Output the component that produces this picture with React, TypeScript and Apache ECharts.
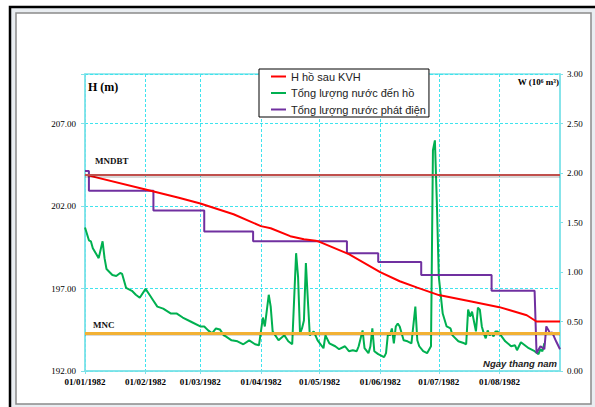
import React, { useEffect, useRef } from 'react';
import * as echarts from 'echarts';

// X axis: days counted from 01/01/1982
const xLabels = ['01/01/1982', '01/02/1982', '01/03/1982', '01/04/1982', '01/05/1982', '01/06/1982', '01/07/1982', '01/08/1982'];
const xLabelDays = [0, 31, 59, 90, 120, 151, 181, 212];
const xEndDay = 243;

// Left axis (H, m)
const hMin = 192;
const hMax = 210;
const hInterval = 5;
// Right axis (W, 10^6 m3)
const wMin = 0;
const wMax = 3;
const wInterval = 0.5;

// Reference levels
const mndbtLevel = 203.9;
const mncLevel = 194.3;

// H hồ sau KVH
const hDays = [0, 31, 48, 59, 76, 90, 95, 105, 112, 118, 120, 135, 151, 161, 170, 181, 197, 212, 217, 226, 231, 243];
const hValues = [203.9, 203.0, 202.5, 202.15, 201.5, 200.78, 200.65, 200.17, 199.98, 199.9, 199.83, 199.08, 197.99, 197.44, 197.05, 196.6, 196.23, 195.87, 195.7, 195.38, 195.0, 195.0];

// Tổng lượng nước đến hồ
const inflowDays = [0, 2, 3, 4, 7, 9, 10, 11, 14, 16, 18, 19, 21, 24, 26, 28, 31, 33, 35, 37, 40, 44, 47, 50, 54, 55, 59, 61, 63, 65, 67, 69, 71, 72, 75, 78, 81, 84, 87, 89, 90, 91, 92, 94, 95, 96, 99, 102, 104, 106, 108, 109, 110, 111, 112, 113, 114, 115, 117, 119, 122, 123, 125, 128, 130, 133, 135, 137, 139, 140, 142, 143, 145, 146, 147, 148, 150, 153, 154, 155, 156, 157, 158, 159, 160, 161, 163, 165, 167, 169, 170, 171, 173, 175, 177, 178, 179, 180, 181, 183, 185, 187, 188, 191, 194, 195, 196, 197, 198, 199, 200, 201, 202, 203, 204, 205, 206, 207, 208, 209, 210, 211, 212, 215, 218, 220, 221, 223, 225, 227, 230, 232, 233, 234, 235];
const inflowValues = [1.45, 1.32, 1.31, 1.24, 1.14, 1.31, 1.14, 1.03, 0.97, 0.96, 0.99, 0.98, 0.84, 0.81, 0.77, 0.74, 0.83, 0.77, 0.71, 0.65, 0.63, 0.58, 0.58, 0.54, 0.5, 0.49, 0.45, 0.45, 0.41, 0.38, 0.43, 0.42, 0.36, 0.35, 0.31, 0.3, 0.27, 0.31, 0.27, 0.26, 0.4, 0.54, 0.45, 0.77, 0.65, 0.4, 0.31, 0.36, 0.3, 0.27, 1.19, 0.95, 0.38, 0.43, 0.51, 1.09, 0.72, 0.36, 0.4, 0.31, 0.23, 0.36, 0.28, 0.25, 0.22, 0.25, 0.2, 0.21, 0.2, 0.25, 0.41, 0.23, 0.18, 0.25, 0.43, 0.2, 0.17, 0.14, 0.18, 0.38, 0.36, 0.43, 0.28, 0.45, 0.48, 0.45, 0.31, 0.3, 0.28, 0.65, 0.31, 0.25, 0.2, 0.18, 0.25, 2.23, 2.33, 1.7, 0.95, 0.58, 0.45, 0.43, 0.36, 0.3, 0.28, 0.27, 0.62, 0.55, 0.6, 0.5, 0.4, 0.64, 0.62, 0.45, 0.38, 0.33, 0.41, 0.36, 0.38, 0.35, 0.4, 0.4, 0.38, 0.3, 0.25, 0.26, 0.21, 0.29, 0.26, 0.23, 0.2, 0.17, 0.22, 0.2, 0.28];

// Tổng lượng nước phát điện
const powerDays = [0, 2, 2, 35, 35, 61, 61, 86, 86, 134, 134, 150, 150, 172, 172, 208, 208, 230, 231, 233, 235, 236, 238, 239, 241, 243];
const powerValues = [2.02, 2.02, 1.82, 1.82, 1.62, 1.62, 1.41, 1.41, 1.31, 1.31, 1.19, 1.19, 1.1, 1.1, 0.97, 0.97, 0.81, 0.81, 0.18, 0.25, 0.22, 0.45, 0.38, 0.39, 0.3, 0.22];

const seriesNames = ['H hồ sau KVH', 'Tổng lượng nước đến hồ', 'Tổng lượng nước phát điện'];

const pair = (days: number[], vals: number[]) => days.map((d, i) => [d, vals[i]]);

const CYAN_AXIS = '#7fe2e8';
const CYAN_GRID = '#3fe4ee';
const SERIF = '"Liberation Serif", "Times New Roman", serif';
const SANS = '"Liberation Sans", Arial, sans-serif';
// one pixel of the left axis, in metres (for the soft shadow under the level lines)
const PX = (hMax - hMin) / 297;

export default function App() {
  const ref = useRef<HTMLDivElement>(null);
  useEffect(() => {
    if (!ref.current) return;
    const chart = echarts.init(ref.current, null, { renderer: 'svg' });
    const shadow = (level: number) => ({
      name: '',
      yAxis: level - 2 * PX,
      lineStyle: { color: 'rgba(0,0,0,0.15)', width: 2, type: 'solid' },
      label: { show: false },
    });
    chart.setOption({
      animation: false,
      backgroundColor: 'transparent',
      graphic: [
        { type: 'rect', z: -20, silent: true, shape: { x: 10, y: 7, width: 600, height: 420 }, style: { fill: '#e9edf1', stroke: '#000', lineWidth: 2.5 } },
        { type: 'rect', z: -19, silent: true, shape: { x: 16, y: 13, width: 575, height: 391 }, style: { fill: '#fff', stroke: '#8a8a8a', lineWidth: 1.5 } },
        { type: 'text', z: 10, x: 88, y: 87, style: { text: 'H (m)', fontFamily: SERIF, fontSize: 12, fontWeight: 'bold', fill: '#000', verticalAlign: 'middle' } },
        { type: 'text', z: 10, x: 559, y: 82, style: { text: 'W (10⁶ m³)', fontFamily: SERIF, fontSize: 9, fontWeight: 'bold', fill: '#000', align: 'right', verticalAlign: 'middle' } },
        { type: 'text', z: 10, x: 557, y: 363, style: { text: 'Ngay thang nam', fontFamily: SANS, fontSize: 9.5, fontWeight: 'bold', fontStyle: 'italic', fill: '#222', align: 'right', verticalAlign: 'middle' } },
      ],
      grid: { left: 85, right: 35, top: 74, bottom: 36, show: true, borderColor: CYAN_AXIS, borderWidth: 1.5, backgroundColor: 'transparent' },
      legend: {
        data: seriesNames,
        orient: 'vertical',
        left: 259,
        top: 69,
        icon: 'rect',
        itemWidth: 15,
        itemHeight: 2,
        itemGap: 3.5,
        padding: [1, 3, 1, 12],
        backgroundColor: '#fff',
        borderColor: '#000',
        borderWidth: 1,
        selectedMode: false,
        textStyle: { fontFamily: SANS, fontSize: 11, lineHeight: 13, color: '#222' },
      },
      xAxis: {
        type: 'value',
        min: 0,
        max: xEndDay,
        axisLine: { show: true, lineStyle: { color: CYAN_AXIS, width: 1.5 } },
        axisTick: { show: true, customValues: xLabelDays, length: 3, lineStyle: { color: CYAN_AXIS } },
        axisLabel: {
          customValues: xLabelDays,
          formatter: (v: number) => {
            const i = xLabelDays.indexOf(Math.round(v));
            return i >= 0 ? xLabels[i] : '';
          },
          fontFamily: SERIF,
          fontSize: 9,
          fontWeight: 'bold',
          color: '#000',
          margin: 6,
        },
        splitLine: { show: true, lineStyle: { color: CYAN_GRID, type: [3, 2], width: 1 } },
      },
      yAxis: [
        {
          type: 'value',
          position: 'left',
          min: hMin,
          max: hMax,
          interval: hInterval,
          axisLine: { show: true, lineStyle: { color: CYAN_AXIS, width: 1.5 } },
          axisTick: { show: true, length: 4, lineStyle: { color: CYAN_AXIS } },
          axisLabel: {
            formatter: (v: number) => (v >= hMax ? '' : v.toFixed(2)),
            fontFamily: SERIF,
            fontSize: 9,
            color: '#000',
            margin: 9,
          },
          splitLine: { show: true, lineStyle: { color: CYAN_GRID, type: [3, 2], width: 1 } },
        },
        {
          type: 'value',
          position: 'right',
          min: wMin,
          max: wMax,
          interval: wInterval,
          axisLine: { show: true, lineStyle: { color: CYAN_AXIS, width: 1.5 } },
          axisTick: { show: true, length: 3, lineStyle: { color: CYAN_AXIS } },
          axisLabel: {
            formatter: (v: number) => v.toFixed(2),
            fontFamily: SERIF,
            fontSize: 9,
            color: '#000',
            margin: 7,
          },
          splitLine: { show: false },
        },
      ],
      series: [
        {
          name: seriesNames[1],
          type: 'line',
          yAxisIndex: 1,
          data: pair(inflowDays, inflowValues),
          showSymbol: false,
          symbol: 'none',
          itemStyle: { color: '#00b050' },
          lineStyle: { color: '#00b050', width: 2 },
          z: 2,
        },
        {
          name: seriesNames[2],
          type: 'line',
          yAxisIndex: 1,
          data: pair(powerDays, powerValues),
          showSymbol: false,
          symbol: 'none',
          itemStyle: { color: '#7030a0' },
          lineStyle: { color: '#7030a0', width: 2 },
          z: 3,
        },
        {
          name: seriesNames[0],
          type: 'line',
          yAxisIndex: 0,
          data: pair(hDays, hValues),
          showSymbol: false,
          symbol: 'none',
          itemStyle: { color: '#ff0000' },
          lineStyle: { color: '#ff0000', width: 2 },
          z: 4,
          markLine: {
            silent: true,
            symbol: ['none', 'none'],
            data: [
              shadow(mndbtLevel),
              shadow(mncLevel),
              {
                name: 'MNDBT',
                yAxis: mndbtLevel,
                lineStyle: { color: '#c0504d', width: 2, type: 'solid' },
                label: { show: true, formatter: '{b}', position: 'insideStartTop', distance: [10, 9], fontFamily: SERIF, fontSize: 9, fontWeight: 'bold', color: '#111' },
              },
              {
                name: 'MNC',
                yAxis: mncLevel,
                lineStyle: { color: '#f2b134', width: 3, type: 'solid' },
                label: { show: true, formatter: '{b}', position: 'insideStartTop', distance: [8, 4], fontFamily: SERIF, fontSize: 9, fontWeight: 'bold', color: '#111' },
              },
            ],
          },
        },
      ],
    });
    return () => chart.dispose();
  }, []);
  return <div ref={ref} style={{ position: 'absolute', left: 0, top: 0, width: 595, height: 407 }} />;
}
